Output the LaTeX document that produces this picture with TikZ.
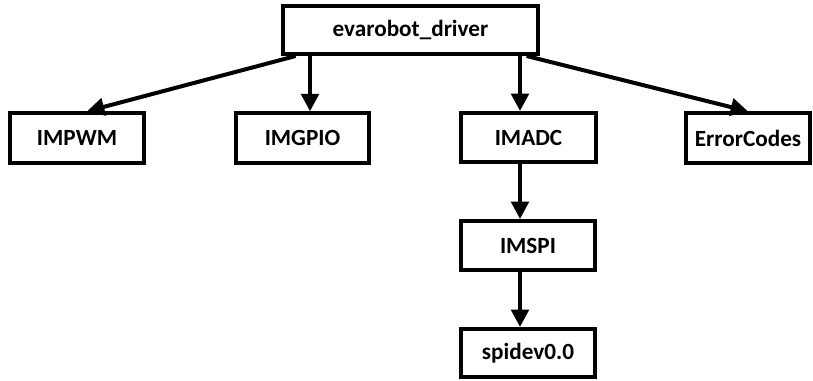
\documentclass[tikz,border=0pt]{standalone}
\usepackage{fontspec}
\setmainfont{Carlito}
\usetikzlibrary{arrows.meta}
\begin{document}
\begin{tikzpicture}[x=0.75pt,y=-0.75pt,
  box/.style={draw=black,line width=3pt,fill=white,inner sep=0pt,
    font=\fontsize{17.4}{20}\selectfont\bfseries,minimum height=37pt},
  arr/.style={line width=3pt,-{Triangle[length=13pt,width=13pt]}}]
\useasboundingbox (0,0) rectangle (813,381);
\node[box,minimum width=191.25pt,minimum height=36pt] (ev) at (410.5,30) {evarobot\_driver};
\node[box,minimum width=100.5pt] (pwm) at (77,138) {IMPWM};
\node[box,minimum width=99.75pt] (gpio) at (302.5,138) {IMGPIO};
\node[box,minimum width=101.25pt,minimum height=36.75pt] (adc) at (528.5,137.5) {IMADC};
\node[box,minimum width=93pt] (err) at (748,138) {ErrorCodes};
\node[box,minimum width=100.5pt,minimum height=36.75pt] (spi) at (528,245.5) {IMSPI};
\node[box,minimum width=100.5pt,minimum height=36pt] (dev) at (528,353) {spidev0.0};
\coordinate (s1) at ([xshift=11pt]ev.south west);
\coordinate (s4) at ([xshift=-10pt]ev.south east);
\draw[arr] (s1) -- ([xshift=7.5pt]pwm.north);
\draw[arr] (ev.south -| 310,0) -- (gpio.north -| 310,0);
\draw[arr] (ev.south -| 520,0) -- (adc.north -| 520,0);
\draw[arr] (s4) -- (err.north);
\draw[arr] (adc.south -| 520,0) -- (spi.north -| 520,0);
\draw[arr] (spi.south -| 520,0) -- (dev.north -| 520,0);
\end{tikzpicture}
\end{document}
